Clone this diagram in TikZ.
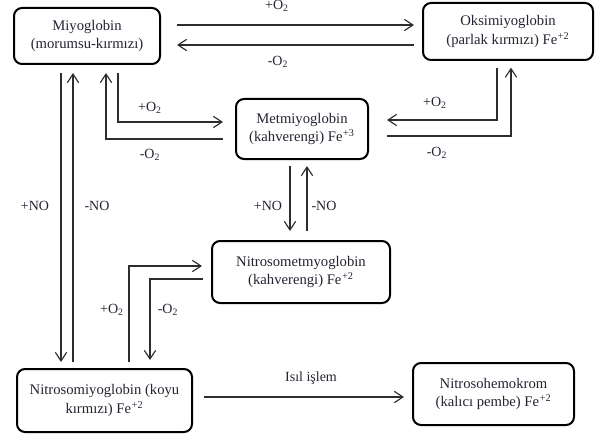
\documentclass[tikz,border=0pt]{standalone}
\usepackage{fontspec}
\setmainfont{Liberation Serif}
\usetikzlibrary{arrows.meta}
\definecolor{txt}{RGB}{35,35,50}
\definecolor{ln}{RGB}{45,45,45}
\tikzset{
  box/.style={draw=black, line width=1.5pt, rounded corners=6pt, align=center,
    inner sep=0pt, font=\fontsize{11}{14.2}\selectfont, text=txt},
  arr/.style={draw=ln, line width=0.85pt, -{Straight Barb[length=6.5pt,width=8.5pt,line width=0.85pt]}},
  lbl/.style={font=\fontsize{10.5}{12}\selectfont, text=txt, inner sep=0pt}
}
\newcommand{\Ot}{O\textsubscript{2}}
\newcommand{\Fe}[1]{Fe\textsuperscript{\kern0.5pt #1}}
\begin{document}
\begin{tikzpicture}[x=0.75pt,y=-0.75pt]
\useasboundingbox (0,0) rectangle (596,435);
\node[box, minimum width=109.5pt, minimum height=42pt] (mio) at (87,36) {Miyoglobin\\(morumsu-kırmızı)};
\node[box, minimum width=127.5pt, minimum height=42.75pt] (oksi) at (508,31.5) {Oksimiyoglobin\\(parlak kırmızı) \Fe{+2}};
\node[box, minimum width=99pt, minimum height=45pt] (met) at (302,129) {Metmiyoglobin\\(kahverengi) \Fe{+3}};
\node[box, minimum width=133.5pt, minimum height=46.5pt] (nmet) at (301,272) {Nitrosometmyoglobin\\(kahverengi) \Fe{+2}};
\node[box, minimum width=131.25pt, minimum height=47.25pt] (nmio) at (104.5,400.5) {Nitrosomiyoglobin (koyu\\kırmızı) \Fe{+2}};
\node[box, minimum width=120.75pt, minimum height=46.5pt] (nhem) at (493.5,394) {Nitrosohemokrom\\(kalıcı pembe) \Fe{+2}};
% Miyoglobin <-> Oksimiyoglobin
\draw[arr, shorten <=12pt, shorten >=6pt] (mio.east |- 0,25) -- (oksi.west |- 0,25);
\draw[arr, shorten <=6pt, shorten >=12pt] (oksi.west |- 0,45) -- (mio.east |- 0,45);
\node[lbl] (l1) at (277,6) {+\Ot};
\node[lbl] (l2) at (278,62) {-\Ot};
% Miyoglobin <-> Metmiyoglobin
\draw[arr, shorten <=6pt, shorten >=9pt] (118,0 |- mio.south) |- (met.west |- 0,122);
\draw[arr, shorten <=9pt, shorten >=6pt] (met.west |- 0,139) -| (106,0 |- mio.south);
\node[lbl] (l3) at (150,108) {+\Ot};
\node[lbl] (l4) at (150,155) {-\Ot};
% Oksimiyoglobin <-> Metmiyoglobin
\draw[arr, shorten <=5pt, shorten >=13.5pt] (497,0 |- oksi.south) |- (met.east |- 0,120);
\draw[arr, shorten <=13.5pt, shorten >=5pt] (met.east |- 0,136) -| (511,0 |- oksi.south);
\node[lbl] (l5) at (435,103) {+\Ot};
\node[lbl] (l6) at (437,153) {-\Ot};
% Miyoglobin <-> Nitrosomiyoglobin
\draw[arr, shorten <=6pt, shorten >=4.5pt] (61,0 |- mio.south) -- (61,0 |- nmio.north);
\draw[arr, shorten <=4.5pt, shorten >=6pt] (73,0 |- nmio.north) -- (73,0 |- mio.south);
\node[lbl] (l7) at (35,206) {+NO};
\node[lbl] (l8) at (97,206) {-NO};
% Metmiyoglobin <-> Nitrosometmyoglobin
\draw[arr, shorten <=4.5pt, shorten >=6.75pt] (290,0 |- met.south) -- (290,0 |- nmet.north);
\draw[arr, shorten <=6.75pt, shorten >=4.5pt] (307,0 |- nmet.north) -- (307,0 |- met.south);
\node[lbl] (l9) at (268,206) {+NO};
\node[lbl] (l10) at (324,206) {-NO};
% Nitrosomiyoglobin <-> Nitrosometmyoglobin
\draw[arr, shorten <=4.5pt, shorten >=6.75pt] (129,0 |- nmio.north) |- (nmet.west |- 0,266);
\draw[arr, shorten <=6pt, shorten >=6pt] (nmet.west |- 0,279) -| (150,0 |- nmio.north);
\node[lbl] (l11) at (112,310) {+\Ot};
\node[lbl] (l12) at (168,310) {-\Ot};
% Nitrosomiyoglobin -> Nitrosohemokrom
\draw[arr, shorten <=8.25pt, shorten >=6pt] (nmio.east |- 0,397) -- (nhem.west |- 0,397);
\node[lbl] (l13) at (311,378) {Isıl işlem};
\end{tikzpicture}
\end{document}
